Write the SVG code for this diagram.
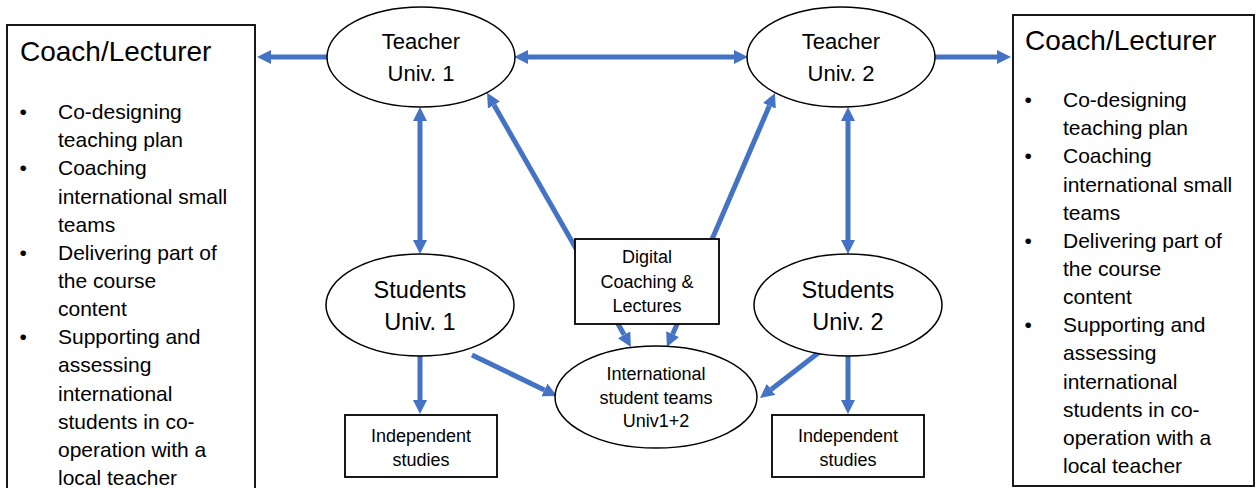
<svg xmlns="http://www.w3.org/2000/svg" width="1256" height="488" viewBox="0 0 1256 488">
  <style>
    text { font-family: "Liberation Sans", Arial, sans-serif; fill: #000; }
    .node { fill: #fff; stroke: #000; stroke-width: 1.5; }
    .box { fill: #fff; stroke: #000; stroke-width: 1.8; }
    .title { font-size: 28px; }
    .item { font-size: 21px; }
    .lbl-l { font-size: 22px; text-anchor: middle; }
    .lbl-s { font-size: 23.5px; text-anchor: middle; }
    .lbl-m { font-size: 18px; text-anchor: middle; }
    .conn { stroke: #4472C4; stroke-width: 5; fill: none; }
  </style>
  <defs>
    <marker id="head" viewBox="0 0 14 14" refX="0" refY="7" markerWidth="14" markerHeight="14" markerUnits="userSpaceOnUse" orient="auto-start-reverse">
      <path d="M0,0 L14,7 L0,14 z" fill="#4472C4"/>
    </marker>
  </defs>

  <!-- connectors -->
  <g id="connectors">
    <line class="conn" x1="327" y1="57" x2="271" y2="57" marker-end="url(#head)"/>
    <line class="conn" x1="528" y1="57" x2="734" y2="57" marker-start="url(#head)" marker-end="url(#head)"/>
    <line class="conn" x1="935" y1="57" x2="997" y2="57" marker-end="url(#head)"/>
    <line class="conn" x1="420" y1="121" x2="420" y2="240" marker-start="url(#head)" marker-end="url(#head)"/>
    <line class="conn" x1="848" y1="121" x2="848" y2="240" marker-start="url(#head)" marker-end="url(#head)"/>
    <line class="conn" x1="578" y1="252" x2="494" y2="105" marker-end="url(#head)"/>
    <line class="conn" x1="710" y1="244" x2="769.4" y2="105.8" marker-end="url(#head)"/>
    <line class="conn" x1="617" y1="322" x2="624.1" y2="334.8" marker-end="url(#head)"/>
    <line class="conn" x1="678" y1="322" x2="672.6" y2="334.2" marker-end="url(#head)"/>
    <line class="conn" x1="472" y1="355" x2="544.4" y2="389.9" marker-end="url(#head)"/>
    <line class="conn" x1="822" y1="350" x2="771.1" y2="389.4" marker-end="url(#head)"/>
    <line class="conn" x1="420" y1="355" x2="420" y2="400" marker-end="url(#head)"/>
    <line class="conn" x1="848" y1="355" x2="848" y2="400" marker-end="url(#head)"/>
  </g>

  <!-- left role box -->
  <g id="coach-left">
    <rect class="box" x="7" y="25" width="248" height="475"/>
    <text class="title" x="20" y="61">Coach/Lecturer</text>
    <g class="item">
      <text x="19.6" y="119">•</text>
      <text x="58" y="119">Co-designing</text>
      <text x="58" y="147.2">teaching plan</text>
      <text x="19.6" y="175.3">•</text>
      <text x="58" y="175.3">Coaching</text>
      <text x="58" y="203.5">international small</text>
      <text x="58" y="231.6">teams</text>
      <text x="19.6" y="259.8">•</text>
      <text x="58" y="259.8">Delivering part of</text>
      <text x="58" y="287.9">the course</text>
      <text x="58" y="316.1">content</text>
      <text x="19.6" y="344.2">•</text>
      <text x="58" y="344.2">Supporting and</text>
      <text x="58" y="372.4">assessing</text>
      <text x="58" y="400.5">international</text>
      <text x="58" y="428.7">students in co-</text>
      <text x="58" y="456.8">operation with a</text>
      <text x="58" y="485">local teacher</text>
    </g>
  </g>

  <!-- right role box -->
  <g id="coach-right">
    <rect class="box" x="1013" y="15" width="241" height="471"/>
    <text class="title" x="1025" y="50">Coach/Lecturer</text>
    <g class="item">
      <text x="1024.6" y="107">•</text>
      <text x="1063" y="107">Co-designing</text>
      <text x="1063" y="135.2">teaching plan</text>
      <text x="1024.6" y="163.3">•</text>
      <text x="1063" y="163.3">Coaching</text>
      <text x="1063" y="191.5">international small</text>
      <text x="1063" y="219.6">teams</text>
      <text x="1024.6" y="247.8">•</text>
      <text x="1063" y="247.8">Delivering part of</text>
      <text x="1063" y="275.9">the course</text>
      <text x="1063" y="304.1">content</text>
      <text x="1024.6" y="332.2">•</text>
      <text x="1063" y="332.2">Supporting and</text>
      <text x="1063" y="360.4">assessing</text>
      <text x="1063" y="388.5">international</text>
      <text x="1063" y="416.7">students in co-</text>
      <text x="1063" y="444.8">operation with a</text>
      <text x="1063" y="473">local teacher</text>
    </g>
  </g>

  <g id="teacher-1">
    <ellipse class="node" cx="421" cy="57" rx="94" ry="50"/>
    <text class="lbl-l" x="421" y="49">Teacher</text>
    <text class="lbl-l" x="421" y="81">Univ. 1</text>
  </g>

  <g id="teacher-2">
    <ellipse class="node" cx="841" cy="57" rx="94" ry="50"/>
    <text class="lbl-l" x="841" y="49">Teacher</text>
    <text class="lbl-l" x="841" y="81">Univ. 2</text>
  </g>

  <g id="students-1">
    <ellipse class="node" cx="420" cy="305" rx="94" ry="51"/>
    <text class="lbl-s" x="420" y="298">Students</text>
    <text class="lbl-s" x="420" y="330">Univ. 1</text>
  </g>

  <g id="students-2">
    <ellipse class="node" cx="848" cy="305" rx="94" ry="51"/>
    <text class="lbl-s" x="848" y="298">Students</text>
    <text class="lbl-s" x="848" y="330">Univ. 2</text>
  </g>

  <g id="digital">
    <rect class="box" x="575" y="239" width="144" height="85"/>
    <text class="lbl-m" x="647" y="263">Digital</text>
    <text class="lbl-m" x="647" y="288">Coaching &amp;</text>
    <text class="lbl-m" x="647" y="312">Lectures</text>
  </g>

  <g id="international-teams">
    <ellipse class="node" cx="656" cy="397" rx="101" ry="51"/>
    <text class="lbl-m" x="656" y="380">International</text>
    <text class="lbl-m" x="656" y="404">student teams</text>
    <text class="lbl-m" x="656" y="427">Univ1+2</text>
  </g>

  <g id="independent-1">
    <rect class="box" x="345" y="415" width="152" height="62"/>
    <text class="lbl-m" x="421" y="442">Independent</text>
    <text class="lbl-m" x="421" y="466">studies</text>
  </g>

  <g id="independent-2">
    <rect class="box" x="772" y="415" width="152" height="62"/>
    <text class="lbl-m" x="848" y="442">Independent</text>
    <text class="lbl-m" x="848" y="466">studies</text>
  </g>
</svg>
